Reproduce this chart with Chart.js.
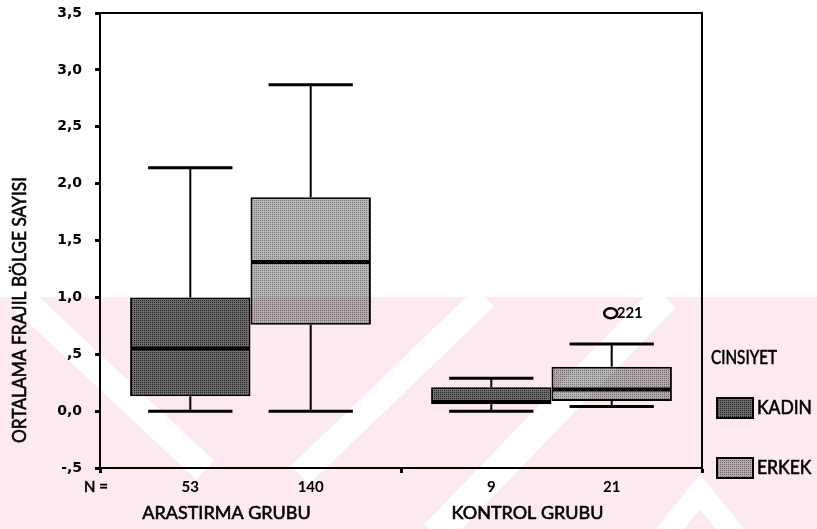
<!DOCTYPE html>
<html lang="tr">
<head>
<meta charset="UTF-8">
<title>Ortalama Frajil Bölge Sayısı</title>
<script src="https://cdn.jsdelivr.net/npm/chart.js"></script>
<style>
    body { margin: 0; background: #fff; }
    #chart { display: block; }
</style>
</head>
<body>
<canvas id="chart" width="817" height="529"></canvas>
<script>
// values
const groups = ['ARASTIRMA GRUBU', 'KONTROL GRUBU'];
const seriesNames = ['KADIN', 'ERKEK'];

const kadinMin = [0.0, 0.0];
const kadinQ1 = [0.13, 0.06];
const kadinMedian = [0.55, 0.08];
const kadinQ3 = [1.0, 0.21];
const kadinMax = [2.14, 0.29];
const kadinN = [53, 9];
const kadinOutliers = [[], []];
const kadinOutlierIds = [[], []];

const erkekMin = [0.0, 0.04];
const erkekQ1 = [0.76, 0.09];
const erkekMedian = [1.31, 0.19];
const erkekQ3 = [1.88, 0.39];
const erkekMax = [2.87, 0.59];
const erkekN = [140, 21];
const erkekOutliers = [[], [0.86]];
const erkekOutlierIds = [[], ['221']];

const yMin = -0.5, yMax = 3.5, yStep = 0.5;

const yTitle = 'ORTALAMA FRAJIL BÖLGE SAYISI';
const legendTitle = 'CINSIYET';

// dotted fill like the scanned halftone
function makePattern(bg, dot) {
    const p = document.createElement('canvas');
    p.width = 2; p.height = 2;
    const g = p.getContext('2d');
    g.fillStyle = bg; g.fillRect(0, 0, 2, 2);
    g.fillStyle = dot; g.fillRect(0, 0, 1, 1);
    return g.createPattern(p, 'repeat');
}

const kadinFill = makePattern('#747474', '#1e1e1e');
const erkekFill = makePattern('#b8b8b8', '#707070');

function fmtTick(v) {
    const r = Math.round(v * 10) / 10;
    if (r === 0) return '0,0';
    if (Math.abs(r) < 1) return (r < 0 ? '-' : '') + ',' + Math.round(Math.abs(r) * 10);
    return r.toFixed(1).replace('.', ',');
}

// scanned text looks heavier, so give it a thin outline
function heavyText(ctx, text, x, y, maxW) {
    ctx.lineWidth = 0.6;
    ctx.strokeStyle = '#000';
    if (maxW) {
        ctx.fillText(text, x, y, maxW);
        ctx.strokeText(text, x, y, maxW);
    } else {
        ctx.fillText(text, x, y);
        ctx.strokeText(text, x, y);
    }
}

// whiskers, medians, outliers and N labels
const boxPlugin = {
    id: 'boxExtras',
    beforeDatasetsDraw(chart) {
        const ctx = chart.ctx, y = chart.scales.y;
        ctx.save();
        ctx.strokeStyle = '#000';
        chart.data.datasets.forEach((ds, di) => {
            chart.getDatasetMeta(di).data.forEach((el, i) => {
                const cap = el.width * 0.7;
                const yq1 = y.getPixelForValue(ds.data[i][0]);
                const yq3 = y.getPixelForValue(ds.data[i][1]);
                const ylo = y.getPixelForValue(ds.stats.min[i]);
                const yhi = y.getPixelForValue(ds.stats.max[i]);
                ctx.lineWidth = 2;
                ctx.beginPath();
                ctx.moveTo(el.x, yq3); ctx.lineTo(el.x, yhi);
                ctx.moveTo(el.x, yq1); ctx.lineTo(el.x, ylo);
                ctx.stroke();
                ctx.lineWidth = 3;
                ctx.beginPath();
                ctx.moveTo(el.x - cap / 2, yhi); ctx.lineTo(el.x + cap / 2, yhi);
                ctx.moveTo(el.x - cap / 2, ylo); ctx.lineTo(el.x + cap / 2, ylo);
                ctx.stroke();
            });
        });
        ctx.restore();
    },
    afterDatasetsDraw(chart) {
        const ctx = chart.ctx, y = chart.scales.y;
        ctx.save();
        ctx.strokeStyle = '#000';
        ctx.fillStyle = '#000';
        chart.data.datasets.forEach((ds, di) => {
            chart.getDatasetMeta(di).data.forEach((el, i) => {
                const ym = y.getPixelForValue(ds.stats.median[i]);
                ctx.lineWidth = 4;
                ctx.beginPath();
                ctx.moveTo(el.x - el.width / 2 + 1, ym);
                ctx.lineTo(el.x + el.width / 2 - 1, ym);
                ctx.stroke();

                ds.stats.outliers[i].forEach((v, k) => {
                    const yo = y.getPixelForValue(v);
                    ctx.lineWidth = 2.5;
                    ctx.beginPath();
                    ctx.ellipse(el.x - 1, yo, 6.5, 5, 0, 0, Math.PI * 2);
                    ctx.stroke();
                    ctx.font = 'bold 15px Lato';
                    ctx.textAlign = 'left';
                    ctx.textBaseline = 'middle';
                    ctx.fillText(ds.stats.ids[i][k], el.x + 5, yo);
                });

                ctx.font = 'bold 15px Lato';
                ctx.textAlign = 'center';
                ctx.textBaseline = 'middle';
                ctx.fillText(String(ds.stats.n[i]), el.x, 487);
            });
        });
        ctx.restore();
    },
    afterDraw(chart) {
        const ctx = chart.ctx, a = chart.chartArea, x = chart.scales.x;
        ctx.save();
        ctx.strokeStyle = '#000';
        ctx.lineWidth = 2;
        ctx.strokeRect(a.left, a.top, a.right - a.left, a.bottom - a.top);

        ctx.fillStyle = '#000';
        ctx.textBaseline = 'middle';
        ctx.textAlign = 'center';
        ctx.font = '15px Lato';
        heavyText(ctx, 'N =', 96, 487);

        ctx.font = '18px Lato';
        groups.forEach((g, i) => {
            heavyText(ctx, g, x.getPixelForValue(i) - 24, 513);
        });

        // y title
        ctx.save();
        ctx.translate(20, 310);
        ctx.rotate(-Math.PI / 2);
        ctx.font = '20px Lato';
        heavyText(ctx, yTitle, 0, 0, 266);
        ctx.restore();

        // legend
        ctx.textAlign = 'left';
        ctx.font = '19px Lato';
        heavyText(ctx, legendTitle, 711, 358, 66);
        chart.data.datasets.forEach((ds, di) => {
            const ty = 398 + di * 60;
            ctx.fillStyle = ds.backgroundColor;
            ctx.fillRect(717, ty, 36, 20);
            ctx.lineWidth = 2;
            ctx.strokeRect(717, ty, 36, 20);
            ctx.fillStyle = '#000';
            ctx.font = '19px Lato';
            heavyText(ctx, ds.label, 757, ty + 10, ctx.measureText(ds.label).width * 0.92);
        });
        ctx.restore();
    }
};

// faint pink watermark from the scanned page
const watermarkPlugin = {
    id: 'watermark',
    afterDraw(chart) {
        const W = chart.width, H = chart.height;
        const off = document.createElement('canvas');
        off.width = W; off.height = H;
        const g = off.getContext('2d');
        g.fillStyle = '#fff';
        g.fillRect(0, 0, W, H);
        g.fillStyle = '#fdeaee';
        g.fillRect(0, 297, W, H - 297);
        g.strokeStyle = '#fff';
        g.lineCap = 'butt';
        [[20, 297, 205, 470, 26], [300, 475, 485, 297, 26], [435, 535, 665, 297, 30]].forEach(b => {
            g.lineWidth = b[4];
            g.beginPath(); g.moveTo(b[0], b[1]); g.lineTo(b[2], b[3]); g.stroke();
        });
        g.lineWidth = 22;
        g.beginPath(); g.moveTo(665, 535); g.lineTo(700, 492); g.lineTo(735, 535); g.stroke();
        const ctx = chart.ctx;
        ctx.save();
        ctx.globalCompositeOperation = 'multiply';
        ctx.drawImage(off, 0, 0);
        ctx.restore();
    }
};

new Chart(document.getElementById('chart'), {
    type: 'bar',
    data: {
        labels: groups,
        datasets: [
            {
                label: seriesNames[0],
                data: kadinQ1.map((q, i) => [q, kadinQ3[i]]),
                backgroundColor: kadinFill,
                borderColor: '#000',
                borderWidth: 2,
                borderSkipped: false,
                stats: { min: kadinMin, median: kadinMedian, max: kadinMax, n: kadinN, outliers: kadinOutliers, ids: kadinOutlierIds }
            },
            {
                label: seriesNames[1],
                data: erkekQ1.map((q, i) => [q, erkekQ3[i]]),
                backgroundColor: erkekFill,
                borderColor: '#000',
                borderWidth: 2,
                borderSkipped: false,
                stats: { min: erkekMin, median: erkekMedian, max: erkekMax, n: erkekN, outliers: erkekOutliers, ids: erkekOutlierIds }
            }
        ]
    },
    options: {
        responsive: false,
        animation: false,
        layout: { padding: { left: 0, top: 13, right: 115, bottom: 0 } },
        plugins: {
            legend: { display: false },
            tooltip: { enabled: false }
        },
        datasets: { bar: { categoryPercentage: 0.8, barPercentage: 1.0 } },
        scales: {
            x: {
                grid: { drawOnChartArea: false, drawTicks: true, tickLength: 5, tickWidth: 3, color: '#000' },
                border: { display: true, color: '#000', width: 2 },
                ticks: { display: false },
                afterFit(scale) { scale.height = 61; }
            },
            y: {
                min: yMin,
                max: yMax,
                grid: { drawOnChartArea: false, drawTicks: true, tickLength: 5, tickWidth: 3, color: '#000' },
                border: { display: true, color: '#000', width: 2 },
                ticks: {
                    stepSize: yStep,
                    padding: 13,
                    color: '#000',
                    font: { family: 'DejaVu Sans', weight: 'bold', size: 14 },
                    callback: v => fmtTick(v)
                },
                afterFit(scale) {
                    scale.width = 100;
                    scale.paddingTop = 0;
                    scale.paddingBottom = 0;
                }
            }
        }
    },
    plugins: [boxPlugin, watermarkPlugin]
});
</script>
</body>
</html>
